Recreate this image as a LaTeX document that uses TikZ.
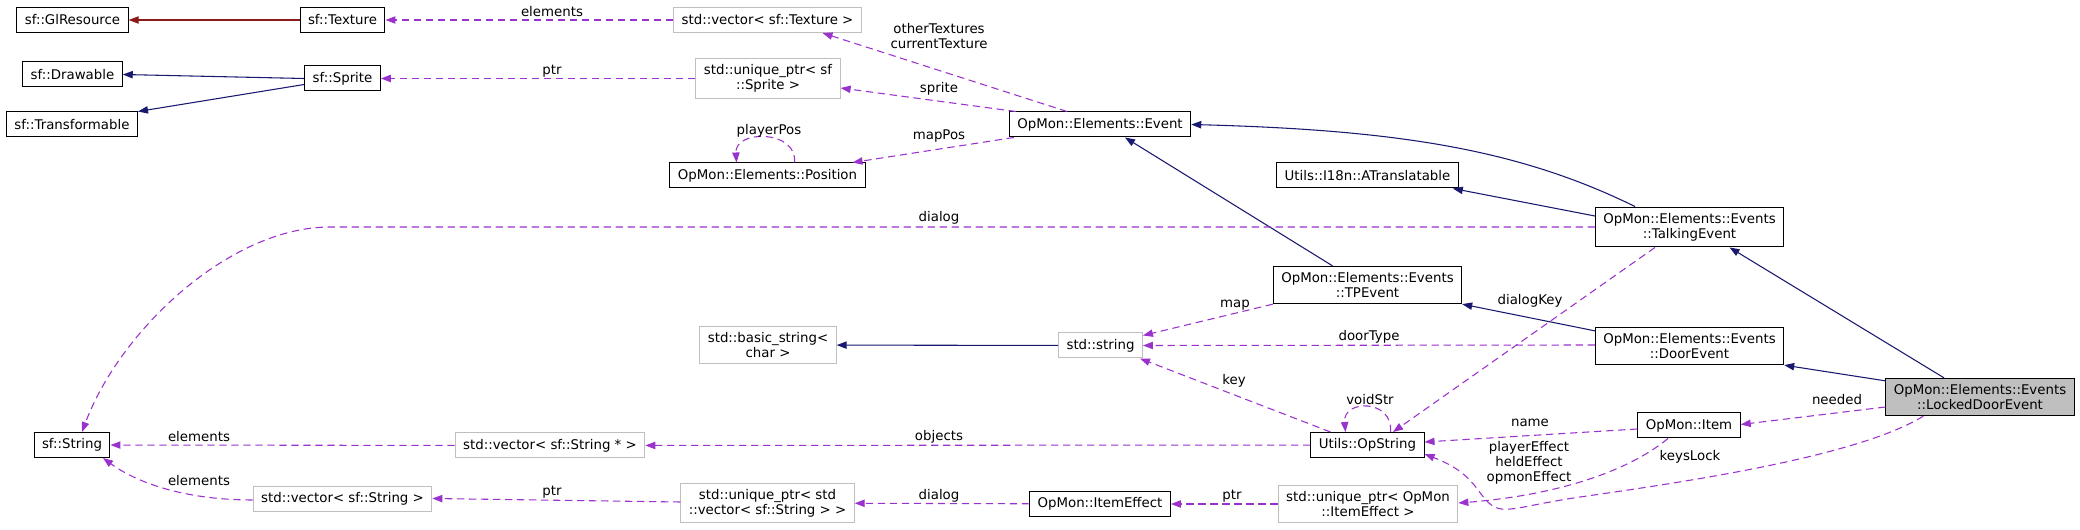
\documentclass[tikz,border=0pt]{standalone}
\usepackage{fontspec}
\usepackage{tikz}
\usetikzlibrary{arrows.meta,calc}
\newfontfamily\dejavu{DejaVu Sans}
\newcommand{\boxfont}{\dejavu\fontsize{10}{11.25}\selectfont}
\definecolor{midnightblue}{HTML}{191970}
\definecolor{firebrickfour}{HTML}{8B1A1A}
\definecolor{orchidthree}{HTML}{9A32CD}
\definecolor{greyseventyfive}{HTML}{BFBFBF}

\begin{document}
\begin{tikzpicture}[
			x=0.75pt,
			y=-0.75pt,
			>={Triangle[length=7.5pt,width=5.5pt]},
			every node/.style={font=\boxfont},
			classbox/.style={draw=black, fill=white, line width=0.75pt,
				inner xsep=6pt, inner ysep=4.5pt, minimum height=18.75pt, align=center},
			extbox/.style={classbox, draw=greyseventyfive},
			focusbox/.style={classbox, fill=greyseventyfive},
			inherit/.style={->, midnightblue, line width=0.8pt},
			usage/.style={->, orchidthree, line width=0.8pt, dash pattern=on 5.5pt off 3.5pt},
			lbl/.style={inner sep=0pt, align=center}
		]
			\fill[white] (0,0) rectangle (2080,530);
			\useasboundingbox (0,0) rectangle (2080,530);

			% classes
			\node[classbox] (glres) at (72.5,20) {sf::GlResource};
			\node[classbox] (texture) at (342.5,20) {sf::Texture};
			\node[extbox] (vectex) at (767.5,20) {std::vector< sf::Texture >};
			\node[classbox] (drawable) at (72.5,74.5) {sf::Drawable};
			\node[classbox] (sprite) at (342.5,78.5) {sf::Sprite};
			\node[extbox] (uptrsprite) at (768,78.5) {std::unique\_ptr< sf\\::Sprite >};
			\node[classbox] (transformable) at (72,124.5) {sf::Transformable};
			\node[classbox] (event) at (1100,124.5) {OpMon::Elements::Event};
			\node[classbox] (position) at (767.5,175.5) {OpMon::Elements::Position};
			\node[classbox] (atrans) at (1367.5,175.5) {Utils::I18n::ATranslatable};
			\node[classbox] (talking) at (1689.5,227) {OpMon::Elements::Events\\::TalkingEvent};
			\node[classbox] (tpevent) at (1367.5,285) {OpMon::Elements::Events\\::TPEvent};
			\node[extbox] (basicstr) at (768,345) {std::basic\_string<\\char >};
			\node[extbox] (stdstring) at (1100.5,345.5) {std::string};
			\node[classbox] (door) at (1689.5,346) {OpMon::Elements::Events\\::DoorEvent};
			\node[focusbox] (locked) at (1980,397) {OpMon::Elements::Events\\::LockedDoorEvent};
			\node[classbox] (sfstring) at (72,445) {sf::String};
			\node[extbox] (vecstrptr) at (550,445.5) {std::vector< sf::String * >};
			\node[classbox] (opstring) at (1367.5,445) {Utils::OpString};
			\node[classbox] (item) at (1689,425.5) {OpMon::Item};
			\node[extbox] (vecstr) at (342.5,498.5) {std::vector< sf::String >};
			\node[extbox] (uptrvec) at (767.5,503) {std::unique\_ptr< std\\::vector< sf::String > >};
			\node[classbox] (itemeffect) at (1100,504) {OpMon::ItemEffect};
			\node[extbox] (uptreffect) at (1368,504) {std::unique\_ptr< OpMon\\::ItemEffect >};

			% inheritance
			\draw[inherit, firebrickfour] (texture) -- (glres);
			\draw[inherit] (sprite.west) -- (drawable.east);
			\draw[inherit] ($(sprite.west)+(0,6)$) -- (transformable.north east);
			\draw[inherit] ($(talking.north)+(-54.5,0)$)
				.. controls (1520,150) and (1400,130) .. (event.east);
			\draw[inherit] ($(talking.west)+(0,-11)$) -- ($(atrans.south east)+(-6,0)$);
			\draw[inherit] ($(tpevent.north)+(-35,0)$) -- ($(event.south)+(25,0)$);
			\draw[inherit] (stdstring) -- (basicstr);
			\draw[inherit] ($(door.north west)+(0,4)$) -- (tpevent.south east);
			\draw[inherit] ($(locked.north west)+(0,3)$) -- (door.south east);
			\draw[inherit] ($(locked.north)+(-36,0)$) -- ($(talking.south)+(40,0)$);

			% usage
			\draw[usage] (vectex) -- (texture);
			\draw[usage] (uptrsprite) -- (sprite);
			\draw[usage] ($(event.north)+(-33,0)$) -- ($(vectex.south)+(55,0)$);
			\draw[usage] ($(event.north west)+(7,0)$) -- ($(uptrsprite.east)+(0,9.5)$);
			\draw[usage] ($(event.south west)+(5,0)$) -- ($(position.north east)+(-13,0)$);
			\draw[usage] ($(position.north)+(27,0)$)
				.. controls +(3,-33) and +(-2,-33) .. ($(position.north)+(-31,0)$);
			\draw[usage] (talking.west) -- (330,227)
				.. controls (230,227) and (120,330) .. ($(sfstring.north)+(10,0)$);
			\draw[usage] (tpevent.south west) -- ($(stdstring.north east)+(0,3)$);
			\draw[usage] ($(door.west)+(0,-1)$) -- (stdstring.east);
			\draw[usage] ($(locked.west)+(0,10)$) -- ($(item.east)+(0,-1)$);
			\draw[usage] ($(locked.south west)+(38,0)$)
				.. controls (1860,455) and (1700,480) .. (1580,497)
				.. controls (1500,509) and (1500,520) .. (1478,490)
				.. controls (1465,472) and (1450,464) .. ($(opstring.east)+(0,9)$);
			\draw[usage] ($(talking.south)+(-34.5,0)$) -- ($(opstring.north)+(25.5,0)$);
			\draw[usage] ($(opstring.north)+(23,0)$)
				.. controls +(3,-33) and +(-3,-33) .. ($(opstring.north)+(-22,0)$);
			\draw[usage] ($(opstring.north west)+(20,0)$) -- ($(stdstring.south east)+(-3,0)$);
			\draw[usage] (opstring) -- (vecstrptr);
			\draw[usage] (vecstrptr) -- (sfstring);
			\draw[usage] ($(item.west)+(0,3.5)$) -- ($(opstring.east)+(0,-3)$);
			\draw[usage] ($(item.south)+(-21,0)$)
				.. controls (1630,470) and (1560,495) .. ($(uptreffect.east)+(0,-1)$);
			\draw[usage] ($(vecstr.west)+(0,1.5)$)
				.. controls (190,500) and (140,485) .. ($(sfstring.south)+(31,0)$);
			\draw[usage] ($(uptrvec.west)+(0,-1)$) -- (vecstr.east);
			\draw[usage] (itemeffect) -- (uptrvec);
			\draw[usage] (uptreffect) -- (itemeffect);

			% edge labels
			\foreach \name/\px/\py/\txt in {
				elemTex/552/12/{elements},
				ptrSprite/552/71/{ptr},
				textures/939/36/{otherTextures\\currentTexture},
				spriteLbl/939/89/{sprite},
				mapPos/939/136/{mapPos},
				playerPos/769/131/{playerPos},
				dialog/939/218/{dialog},
				map/1235/305/{map},
				dialogKey/1530/301/{dialogKey},
				doorType/1369/337/{doorType},
				needed/1837/400/{needed},
				voidStr/1370/400/{voidStr},
				key/1234/381/{key},
				name/1530/423/{name},
				effects/1529/463/{playerEffect\\heldEffect\\opmonEffect},
				keysLock/1690/457/{keysLock},
				elemPtr/199/437/{elements},
				objects/939/437/{objects},
				elemVec/199/481/{elements},
				ptrVec/552/492/{ptr},
				dialogVec/939/496/{dialog},
				ptrEffect/1234/496/{ptr}
			}{
				\node[lbl] (l\name) at (\px,\py) {\txt};
			}
		\end{tikzpicture}
\end{document}
